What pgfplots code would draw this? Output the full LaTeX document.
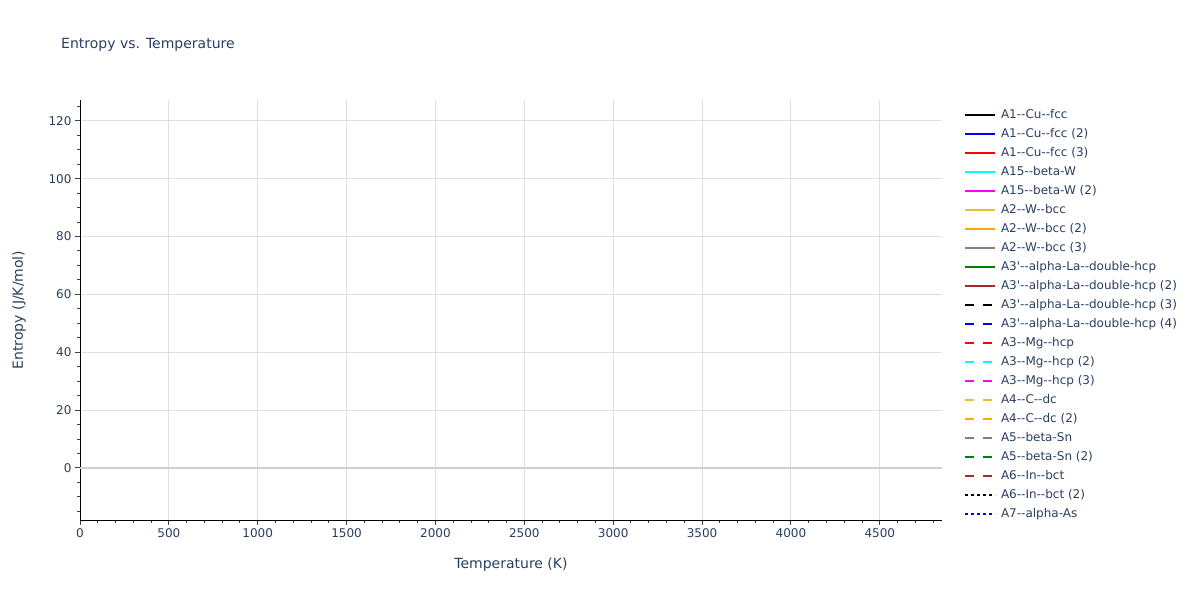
\documentclass[border=0pt]{standalone}
\usepackage{fontspec}
\setmainfont{DejaVu Sans}[Ligatures=TeXOff]
\usepackage{pgfplots}
\pgfplotsset{compat=1.18}

\definecolor{fontc}{HTML}{2A3F5F}
\definecolor{gridc}{HTML}{E0E0E0}
\definecolor{zeroc}{HTML}{D0D0D0}
\definecolor{tickc}{HTML}{444444}
\definecolor{cblack}{HTML}{000000}
\definecolor{cblue}{HTML}{0000FF}
\definecolor{cred}{HTML}{FF0000}
\definecolor{ccyan}{HTML}{00FFFF}
\definecolor{cmagenta}{HTML}{FF00FF}
\definecolor{cgold}{HTML}{E8BF30}
\definecolor{corange}{HTML}{FFA500}
\definecolor{cgray}{HTML}{808080}
\definecolor{cgreen}{HTML}{008000}
\definecolor{cbrown}{HTML}{A52A2A}

\newcommand{\tickfont}{\fontsize{12bp}{14bp}\selectfont}
\newcommand{\labfont}{\fontsize{14bp}{17bp}\selectfont}

\begin{document}
\begin{tikzpicture}
\useasboundingbox (0bp,0bp) rectangle (1200bp,600bp);
\begin{axis}[
    at={(80bp,80bp)}, anchor=south west,
    scale only axis,
    width=862bp, height=420bp,
    xmin=0, xmax=4850,
    ymin=-18, ymax=127.2,
    separate axis lines,
    axis x line*=bottom,
    axis y line*=left,
    axis line style={-, black, line width=1bp},
    xtick={0,500,...,4500},
    ytick={20,40,...,120},
    extra y ticks={0},
    extra y tick style={major grid style={zeroc, line width=2bp}},
    minor xtick={0,100,...,4800},
    minor ytick={-15,-10,...,125},
    tick align=outside,
    major tick length=5bp,
    minor tick length=3bp,
    every tick/.style={tickc, line width=1bp},
    grid=major,
    major grid style={gridc, line width=1bp},
    /pgf/number format/assume math mode=true,
    /pgf/number format/1000 sep={},
    tick label style={font=\tickfont, text=fontc},
    every axis title/.style={at={(axis description cs:0,1)}, anchor=west,
        inner sep=0pt, xshift=-19bp, yshift=55bp, font=\labfont, text=fontc},
    title={Entropy vs. Temperature},
    every axis x label/.style={at={(axis description cs:0.5,0)}, anchor=center,
        yshift=-45bp, font=\labfont, text=fontc},
    every axis y label/.style={at={(axis description cs:-0.0708,0.5)},
        anchor=center, rotate=90, font=\labfont, text=fontc},
    xlabel={Temperature (K)},
    ylabel={Entropy (J/K/mol)},
    legend image code/.code={\draw[#1] (0bp,0bp) -- (30bp,0bp);},
    legend cell align=left,
    legend style={draw=none, fill=none,
        at={(axis description cs:1.02552,0.9860)}, anchor=north west,
        inner sep=0pt, outer sep=0pt,
        row sep=0pt, column sep=5bp,
        font=\tickfont, text=fontc,
        nodes={inner sep=0pt, text height=13bp, text depth=6bp}},
]
\addlegendimage{cblack, line width=2bp}
\addlegendentry{A1--Cu--fcc}
\addlegendimage{cblue, line width=2bp}
\addlegendentry{A1--Cu--fcc (2)}
\addlegendimage{cred, line width=2bp}
\addlegendentry{A1--Cu--fcc (3)}
\addlegendimage{ccyan, line width=2bp}
\addlegendentry{A15--beta-W}
\addlegendimage{cmagenta, line width=2bp}
\addlegendentry{A15--beta-W (2)}
\addlegendimage{cgold, line width=2bp}
\addlegendentry{A2--W--bcc}
\addlegendimage{corange, line width=2bp}
\addlegendentry{A2--W--bcc (2)}
\addlegendimage{cgray, line width=2bp}
\addlegendentry{A2--W--bcc (3)}
\addlegendimage{cgreen, line width=2bp}
\addlegendentry{A3'--alpha-La--double-hcp}
\addlegendimage{cbrown, line width=2bp}
\addlegendentry{A3'--alpha-La--double-hcp (2)}
\addlegendimage{cblack, line width=2bp, dash pattern=on 9bp off 9bp}
\addlegendentry{A3'--alpha-La--double-hcp (3)}
\addlegendimage{cblue, line width=2bp, dash pattern=on 9bp off 9bp}
\addlegendentry{A3'--alpha-La--double-hcp (4)}
\addlegendimage{cred, line width=2bp, dash pattern=on 9bp off 9bp}
\addlegendentry{A3--Mg--hcp}
\addlegendimage{ccyan, line width=2bp, dash pattern=on 9bp off 9bp}
\addlegendentry{A3--Mg--hcp (2)}
\addlegendimage{cmagenta, line width=2bp, dash pattern=on 9bp off 9bp}
\addlegendentry{A3--Mg--hcp (3)}
\addlegendimage{cgold, line width=2bp, dash pattern=on 9bp off 9bp}
\addlegendentry{A4--C--dc}
\addlegendimage{corange, line width=2bp, dash pattern=on 9bp off 9bp}
\addlegendentry{A4--C--dc (2)}
\addlegendimage{cgray, line width=2bp, dash pattern=on 9bp off 9bp}
\addlegendentry{A5--beta-Sn}
\addlegendimage{cgreen, line width=2bp, dash pattern=on 9bp off 9bp}
\addlegendentry{A5--beta-Sn (2)}
\addlegendimage{cbrown, line width=2bp, dash pattern=on 9bp off 9bp}
\addlegendentry{A6--In--bct}
\addlegendimage{cblack, line width=2bp, dash pattern=on 3bp off 3bp}
\addlegendentry{A6--In--bct (2)}
\addlegendimage{cblue, line width=2bp, dash pattern=on 3bp off 3bp}
\addlegendentry{A7--alpha-As}
\end{axis}
\end{tikzpicture}
\end{document}
